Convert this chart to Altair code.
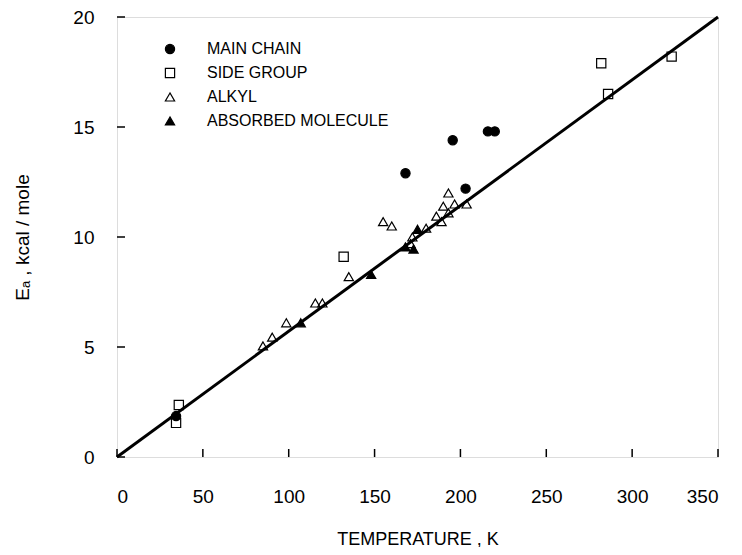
import altair as alt
import pandas as pd

groups = ["MAIN CHAIN", "SIDE GROUP", "ALKYL", "ABSORBED MOLECULE"]
shapes = ["circle", "square", "triangle-up", "triangle-up"]
fills = ["black", "transparent", "transparent", "black"]
strokes = ["black", "black", "black", "black"]

main_T = [34.4, 168, 195.5, 203, 216, 220]
main_E = [1.86, 12.9, 14.4, 12.2, 14.8, 14.8]
side_T = [36, 34.4, 132, 282, 286, 323]
side_E = [2.36, 1.55, 9.1, 17.9, 16.5, 18.2]
alkyl_T = [85, 90.4, 98.6, 115.5, 119.6, 135, 155, 160, 171, 172, 180, 186, 189, 190, 193, 193, 196.6, 203.6]
alkyl_E = [5.05, 5.45, 6.1, 7.0, 7.0, 8.2, 10.7, 10.5, 9.7, 10.0, 10.4, 10.95, 10.7, 11.4, 11.1, 12.0, 11.5, 11.5]
abs_T = [107, 148, 168, 172.7, 175]
abs_E = [6.1, 8.3, 9.55, 9.45, 10.35]

fit_T = [0, 350]
fit_E = [0, 20]

x_ticks = [0, 50, 100, 150, 200, 250, 300, 350]
y_ticks = [0, 5, 10, 15, 20]

rows = []
for g, ts, es in [(groups[0], main_T, main_E), (groups[1], side_T, side_E),
                  (groups[2], alkyl_T, alkyl_E), (groups[3], abs_T, abs_E)]:
    for t, e in zip(ts, es):
        rows.append({"T": t, "E": e, "group": g})
df = pd.DataFrame(rows)
fit_df = pd.DataFrame({"T": fit_T, "E": fit_E})
xt_df = pd.DataFrame({"T": x_ticks})
yt_df = pd.DataFrame({"E": y_ticks})

W, H = 601, 440
FONT = "Liberation Sans"

xaxis = alt.Axis(values=x_ticks, title="TEMPERATURE ,  K", grid=False, domain=False,
                 ticks=False, tickSize=0, labelPadding=30, labelFontSize=19,
                 labelFont=FONT, labelColor="black", titleFont=FONT, titleFontSize=18,
                 titleFontWeight="normal", titleColor="black", titleX=W / 2, titleY=82,
                 titleBaseline="middle", titleAlign="center")
yaxis = alt.Axis(values=y_ticks, title="Eₐ , kcal / mole", grid=False, domain=False,
                 ticks=False, tickSize=0, labelPadding=23, labelFontSize=19,
                 labelFont=FONT, labelColor="black", titleFont=FONT, titleFontSize=19,
                 titleFontWeight="normal", titleColor="black", titleX=-95, titleY=H / 2,
                 titleBaseline="middle", titleAlign="center", titleAngle=-90)

xs = alt.Scale(domain=[0, 350], nice=False, zero=False)
ys = alt.Scale(domain=[0, 20], nice=False, zero=False)

X = alt.X("T:Q", scale=xs, axis=xaxis)
Y = alt.Y("E:Q", scale=ys, axis=yaxis)

leg = alt.Legend(orient="none", legendX=45, legendY=24, title=None, labelFontSize=16,
                 labelFont=FONT, labelColor="black", symbolSize=85, rowPadding=8,
                 labelOffset=29, symbolStrokeWidth=1.2, labelLimit=400,
                 padding=0)

points = alt.Chart(df).mark_point(filled=True, strokeWidth=1.2,
                                  size=85, opacity=1).encode(
    x=X, y=Y,
    shape=alt.Shape("group:N", scale=alt.Scale(domain=groups, range=shapes), legend=leg),
    fill=alt.Fill("group:N", scale=alt.Scale(domain=groups, range=fills), legend=leg),
    stroke=alt.Stroke("group:N", scale=alt.Scale(domain=groups, range=strokes), legend=leg),
)

fit = alt.Chart(fit_df).mark_line(color="black", strokeWidth=3).encode(x=X, y=Y)

xt = alt.Chart(xt_df).mark_rule(color="black", strokeWidth=1.5).encode(
    x=X, y=alt.value(H), y2=alt.value(H - 8))
yt = alt.Chart(yt_df).mark_rule(color="black", strokeWidth=1.5).encode(
    y=Y, x=alt.value(0), x2=alt.value(8))

chart = alt.layer(fit, xt, yt, points).properties(
    width=W, height=H, autosize="none",
    padding={"left": 109, "top": 9, "right": 16, "bottom": 90},
).configure_view(stroke="black", strokeWidth=1.5).configure(background="white")

chart.save("out.html", embed_options={"renderer": "svg", "actions": False})
